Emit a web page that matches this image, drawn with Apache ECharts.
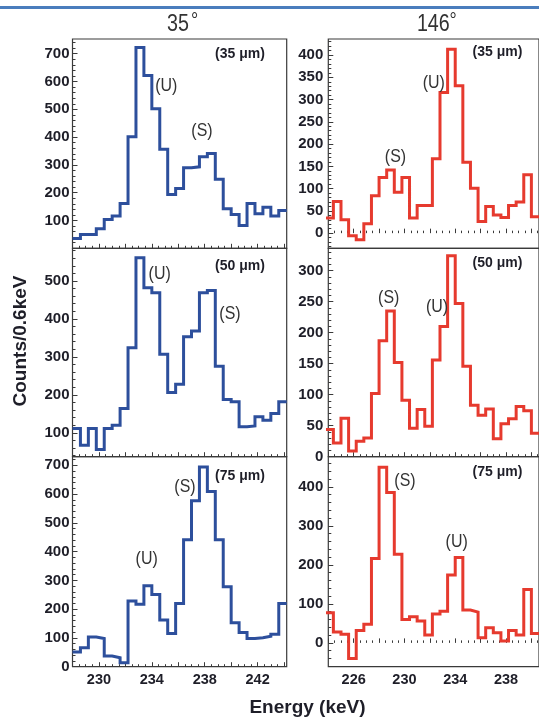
<!DOCTYPE html>
<html>
<head>
<meta charset="utf-8">
<script src="https://cdn.jsdelivr.net/npm/echarts@6/dist/echarts.min.js"></script>
<style>
  html, body { margin: 0; padding: 0; background: #ffffff; }
  #chart { width: 539px; height: 720px; }
</style>
</head>
<body>
<div id="chart"></div>
<script>
// ---- Energy binning (keV) ----
const BIN_WIDTH = 0.6;
const LEFT_FIRST_EDGE = 228.0;   // 35 degree spectra
const RIGHT_FIRST_EDGE = 223.8;  // 146 degree spectra
const leftEnergyRange = [228.0, 244.2];
const rightEnergyRange = [224.0, 240.6];

// ---- Counts per 0.6 keV bin ----
// 35 degrees
const counts35deg35um = [35, 50, 50, 70, 104, 116, 161, 401, 722, 622, 502, 356, 194, 215, 290, 293, 329, 341, 248, 142, 122, 82, 161, 124, 148, 116, 136];
const counts35deg50um = [111, 67, 111, 56, 111, 120, 164, 324, 561, 482, 469, 307, 206, 228, 353, 368, 469, 475, 275, 188, 182, 116, 118, 142, 133, 151, 182];
const counts35deg75um = [51, 66, 103, 98, 37, 31, 14, 228, 217, 281, 251, 162, 115, 220, 441, 577, 694, 609, 441, 278, 153, 119, 98, 101, 106, 113, 220];
// 146 degrees
const counts146deg35um = [34, 71, 30, -6, -15, 21, 84, 125, 142, 92, 125, 34, 62, 62, 167, 316, 413, 331, 159, 101, 26, 60, 41, 35, 62, 70, 131, 37];
const counts146deg50um = [44, 22, 62, 9, 25, 30, 102, 187, 235, 152, 91, 46, 76, 49, 156, 210, 324, 247, 146, 83, 67, 77, 29, 53, 61, 81, 74, 38];
const counts146deg75um = [77, 28, 22, -40, 32, 48, 216, 450, 385, 227, 60, 67, 56, 20, 74, 81, 174, 219, 84, 79, 13, 39, 26, 5, 32, 20, 137, 24];

// ---- Tick labels ----
const xLabelsLeft = [230, 234, 238, 242];
const xLabelsRight = [226, 230, 234, 238];
const yLabels35deg35um = [100, 200, 300, 400, 500, 600, 700];
const yLabels35deg50um = [100, 200, 300, 400, 500];
const yLabels35deg75um = [0, 100, 200, 300, 400, 500, 600, 700];
const yLabels146deg35um = [0, 50, 100, 150, 200, 250, 300, 350, 400];
const yLabels146deg50um = [0, 50, 100, 150, 200, 250, 300];
const yLabels146deg75um = [0, 100, 200, 300, 400];

const columnTitles = ['35', '146'];
const thicknessLabels = ['(35 μm)', '(50 μm)', '(75 μm)'];

// ---- Layout ----
const COL_LEFT = [72.5, 328.3];
const COL_WIDTH = 214.2;
const ROW_TOP = [39, 248.3, 456.7];
const ROW_HEIGHT = [209.3, 208.4, 210];

const BLUE = '#2d4f9c';
const RED = '#e63a2e';
const FRAME = '#3a3a3a';
const TEXT = '#1e1e28';

const panels = [
  { col: 0, row: 0, counts: counts35deg35um, first: LEFT_FIRST_EDGE, xr: leftEnergyRange, yr: [0, 753], labels: yLabels35deg35um, major: 100, minor: 20, color: BLUE },
  { col: 0, row: 1, counts: counts35deg50um, first: LEFT_FIRST_EDGE, xr: leftEnergyRange, yr: [37, 586], labels: yLabels35deg50um, major: 100, minor: 20, color: BLUE },
  { col: 0, row: 2, counts: counts35deg75um, first: LEFT_FIRST_EDGE, xr: leftEnergyRange, yr: [0, 730], labels: yLabels35deg75um, major: 100, minor: 20, color: BLUE },
  { col: 1, row: 0, counts: counts146deg35um, first: RIGHT_FIRST_EDGE, xr: rightEnergyRange, yr: [-34, 436], labels: yLabels146deg35um, major: 50, minor: 10, color: RED },
  { col: 1, row: 1, counts: counts146deg50um, first: RIGHT_FIRST_EDGE, xr: rightEnergyRange, yr: [0, 336], labels: yLabels146deg50um, major: 50, minor: 10, color: RED },
  { col: 1, row: 2, counts: counts146deg75um, first: RIGHT_FIRST_EDGE, xr: rightEnergyRange, yr: [-61, 477], labels: yLabels146deg75um, major: 100, minor: 20, color: RED }
];

function ticksBetween(min, max, step, skipStep) {
  const out = [];
  const start = Math.ceil(min / step - 1e-9);
  const end = Math.floor(max / step + 1e-9);
  for (let k = start; k <= end; k++) {
    const v = +(k * step).toFixed(4);
    if (skipStep && Math.abs(v / skipStep - Math.round(v / skipStep)) < 1e-6) continue;
    out.push(v);
  }
  return out;
}

function histogramPoints(first, counts) {
  const pts = counts.map((c, i) => [+(first + i * BIN_WIDTH).toFixed(3), c]);
  pts.push([+(first + counts.length * BIN_WIDTH).toFixed(3), counts[counts.length - 1]]);
  return pts;
}

const grids = [], xAxes = [], yAxes = [], series = [];
const family = '"Liberation Sans", Arial, sans-serif';
const labelFont = { fontFamily: family, fontWeight: 'bold', fontSize: 15, color: TEXT };

panels.forEach((p, i) => {
  grids.push({
    left: COL_LEFT[p.col], top: ROW_TOP[p.row], width: COL_WIDTH, height: ROW_HEIGHT[p.row],
    show: true, borderColor: FRAME, borderWidth: 1.2, backgroundColor: 'transparent', containLabel: false
  });
  const bottomRow = p.row === 2;
  const xLabels = p.col === 0 ? xLabelsLeft : xLabelsRight;
  // main x axis: ticks every 2 keV
  xAxes.push({
    type: 'value', gridIndex: i, min: p.xr[0], max: p.xr[1], position: 'bottom', offset: 0,
    axisLine: { show: false }, splitLine: { show: false },
    axisTick: { show: true, inside: true, length: 4.5, customValues: ticksBetween(p.xr[0], p.xr[1], 2), lineStyle: { color: FRAME, width: 1 } },
    axisLabel: Object.assign({ show: bottomRow, margin: 6, customValues: xLabels }, labelFont, { fontSize: 14.5 })
  });
  // minor x ticks every 0.5 keV
  xAxes.push({
    type: 'value', gridIndex: i, min: p.xr[0], max: p.xr[1], position: 'bottom', offset: 0,
    axisLine: { show: false }, splitLine: { show: false }, axisLabel: { show: false },
    axisTick: { show: true, inside: true, length: 2.5, customValues: ticksBetween(p.xr[0], p.xr[1], 0.5, 2), lineStyle: { color: FRAME, width: 1 } }
  });
  yAxes.push({
    type: 'value', gridIndex: i, min: p.yr[0], max: p.yr[1], position: 'left', offset: 0,
    axisLine: { show: false }, splitLine: { show: false },
    axisTick: { show: true, inside: true, length: 5, customValues: ticksBetween(p.yr[0], p.yr[1], p.major), lineStyle: { color: FRAME, width: 1 } },
    axisLabel: Object.assign({ margin: p.col === 0 ? 3 : 5, customValues: p.labels }, labelFont)
  });
  yAxes.push({
    type: 'value', gridIndex: i, min: p.yr[0], max: p.yr[1], position: 'left', offset: 0,
    axisLine: { show: false }, splitLine: { show: false }, axisLabel: { show: false },
    axisTick: { show: true, inside: true, length: 3, customValues: ticksBetween(p.yr[0], p.yr[1], p.minor, p.major), lineStyle: { color: FRAME, width: 1 } }
  });
  series.push({
    type: 'line', xAxisIndex: 2 * i, yAxisIndex: 2 * i, step: 'end',
    data: histogramPoints(p.first, p.counts),
    symbol: 'none', showSymbol: false, clip: true, silent: true,
    lineStyle: { color: p.color, width: 3, join: 'miter', cap: 'butt' }
  });
});

// ---- Text overlays ----
function textEl(text, x, y, font, extra) {
  return Object.assign({
    type: 'text', x: x, y: y, silent: true, z: 100,
    style: { text: text, font: font, fill: TEXT, align: 'center', verticalAlign: 'middle' }
  }, extra || {});
}
function titleEl(text, x, y, font, scaleX) {
  return {
    type: 'text', x: x, y: y, scaleX: scaleX, silent: true, z: 100,
    style: { text: text, font: font, fill: '#333333', align: 'center', verticalAlign: 'middle' }
  };
}

const graphics = [
  { type: 'rect', shape: { x: 0, y: 6, width: 539, height: 3 }, style: { fill: '#4a7dbd' }, silent: true },
  titleEl(columnTitles[0], 178, 24, '24px ' + family, 0.82),
  titleEl('°', 194.5, 21, '20px ' + family, 0.9),
  titleEl(columnTitles[1], 433.3, 24, '24px ' + family, 0.82),
  titleEl('°', 453, 21, '20px ' + family, 0.9),
  textEl('Counts/0.6keV', 20.5, 341, 'bold 19px ' + family, { rotation: Math.PI / 2 }),
  textEl('Energy (keV)', 307.5, 708, 'bold 19px ' + family)
];

// thickness tags, one per row and column
const tagCenters = [[240, 54.5], [240, 266], [240, 475.8], [497.5, 51.7], [497.5, 263.3], [497.5, 472.5]];
tagCenters.forEach((c, k) => {
  graphics.push(textEl(thicknessLabels[k % 3], c[0], c[1], 'bold 14px ' + family));
});

// peak tags
const peakTags = [
  ['(U)', 166.3, 86.2], ['(S)', 202, 131],
  ['(U)', 159.7, 273.3], ['(S)', 230, 313.3],
  ['(S)', 185, 487.2], ['(U)', 146.7, 558.7],
  ['(S)', 395.5, 156.7], ['(U)', 433.8, 82.8],
  ['(S)', 388.7, 298], ['(U)', 437, 307.2],
  ['(S)', 405, 480.5], ['(U)', 456.7, 542]
];
peakTags.forEach(t => {
  graphics.push(titleEl(t[0], t[1], t[2], '19px ' + family, 0.84));
});

const chart = echarts.init(document.getElementById('chart'), null, { renderer: 'canvas', width: 539, height: 720 });
chart.setOption({
  animation: false,
  backgroundColor: '#ffffff',
  grid: grids,
  xAxis: xAxes,
  yAxis: yAxes,
  series: series,
  graphic: graphics
});
</script>
</body>
</html>
